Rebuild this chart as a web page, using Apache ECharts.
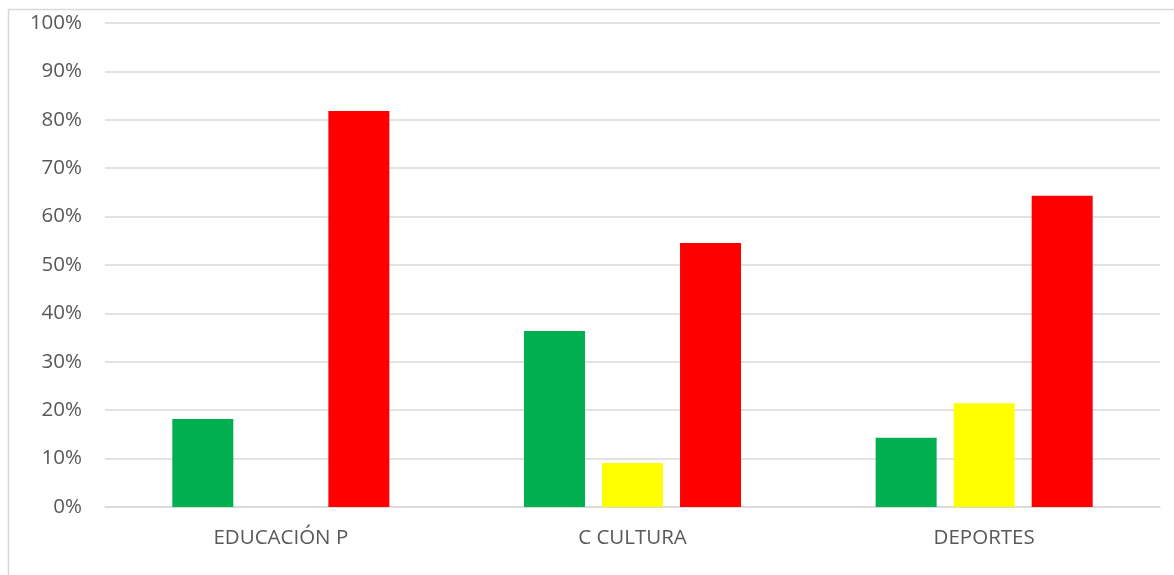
<!DOCTYPE html>
<html>
<head>
<meta charset="utf-8">
<script src="https://cdn.jsdelivr.net/npm/echarts@6/dist/echarts.min.js"></script>
<style>
html,body{margin:0;padding:0;background:#fff;}
#chart{width:1174px;height:575px;}
</style>
</head>
<body>
<div id="chart"></div>
<script>
const categories = ['EDUCACIÓN P', 'C CULTURA', 'DEPORTES'];
const greenValues = [18.18, 36.36, 14.29];
const yellowValues = [0, 9.09, 21.43];
const redValues = [81.82, 54.55, 64.29];
const seriesNames = ['Verde', 'Amarillo', 'Rojo'];

const chart = echarts.init(document.getElementById('chart'), null, {renderer: 'canvas'});
const fontFamily = '"Open Sans", sans-serif';
const mk = (name, data, color) => ({
  name, type: 'bar', data, barWidth: 61, barGap: '27.9%',
  itemStyle: {color}, silent: true
});
chart.setOption({
  animation: false,
  backgroundColor: '#ffffff',
  graphic: [{
    type: 'rect', left: 6, top: 7,
    shape: {x: 0, y: 0, width: 1200, height: 600},
    style: {fill: 'none', stroke: '#d9d9d9', lineWidth: 1.5}
  }],
  grid: {left: 105, right: 14, top: 23, bottom: 68, containLabel: false},
  xAxis: {
    type: 'category', data: categories,
    axisLine: {show: true, lineStyle: {color: '#d9d9d9', width: 1.5}},
    axisTick: {show: false},
    axisLabel: {color: '#595959', fontSize: 20.5, fontFamily, margin: 21}
  },
  yAxis: {
    type: 'value', min: 0, max: 100, interval: 10,
    axisLine: {show: false}, axisTick: {show: false},
    splitLine: {lineStyle: {color: '#d9d9d9', width: 1.5}},
    axisLabel: {color: '#595959', fontSize: 20.5, fontFamily, margin: 23, formatter: v => v + '%'}
  },
  series: [
    mk(seriesNames[0], greenValues, '#00b050'),
    mk(seriesNames[1], yellowValues, '#ffff00'),
    mk(seriesNames[2], redValues, '#ff0000')
  ]
});
</script>
</body>
</html>
